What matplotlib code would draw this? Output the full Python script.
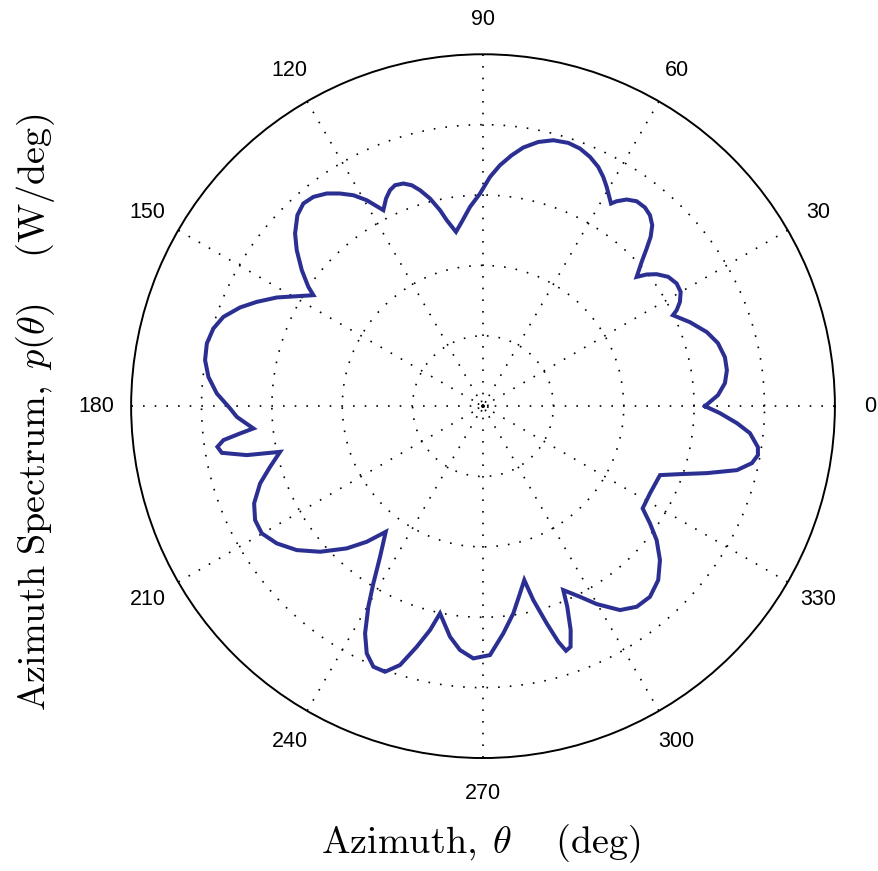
import numpy as np
import matplotlib.pyplot as plt

plt.rcParams['mathtext.fontset'] = 'cm'

# azimuth spectrum (deg, radial units with ring spacing = 1)
theta_deg = [0.00, 2.68, 5.43, 8.39, 11.45, 15.01, 18.28, 22.09, 25.59,
             26.36, 27.90, 30.03, 32.35, 34.91, 37.23, 38.82, 40.07,
             42.28, 43.93, 45.28, 46.91, 48.84, 50.81, 53.14, 55.19, 56.89, 57.72,
             58.89, 60.58, 62.32, 64.28, 66.77, 69.37, 72.05, 75.20, 78.18, 81.15,
             83.48, 85.97, 88.25, 90.81, 93.73, 96.59, 98.81,
             101.04, 102.37, 104.32, 106.26, 107.88, 109.69, 111.72, 113.30, 115.03, 116.96,
             119.45, 121.58, 123.92, 126.31, 129.04, 131.56, 134.19, 137.43, 140.06,
             143.12, 145.67, 146.81,
             149.44, 152.21, 155.26, 157.89, 161.03, 163.93, 167.21, 170.60, 173.91,
             177.27, 180.52, 182.49, 185.55,
             186.41, 187.46, 188.71, 190.13, 191.71, 192.69,
             195.91, 199.12, 203.02, 206.57, 209.91, 213.64, 217.70, 221.79, 226.23,
             229.40, 232.26,
             235.65, 238.26, 240.25, 242.57, 244.81, 247.18, 249.75, 252.23, 254.60,
             256.69, 258.28,
             261.86, 264.61, 267.80, 271.61, 275.10, 278.32, 281.17, 283.35,
             284.54, 286.34, 287.72, 288.74, 289.99, 291.38, 292.78, 293.58,
             296.96, 299.87, 303.88, 307.45, 311.21, 315.21, 318.97, 322.35, 324.92, 327.36,
             332.40, 338.71,
             340.95, 343.35, 345.86, 348.04, 349.90, 351.52, 354.23, 356.17, 358.31]
r_val = [3.153, 3.342, 3.453, 3.503, 3.507, 3.456, 3.351, 3.173, 2.992,
         3.071, 3.166, 3.244, 3.257, 3.210, 3.099, 2.984, 2.853,
         3.047, 3.229, 3.385, 3.520, 3.604, 3.642, 3.639, 3.576, 3.476, 3.405,
         3.473, 3.577, 3.678, 3.773, 3.854, 3.911, 3.932, 3.908, 3.835, 3.719,
         3.588, 3.432, 3.259, 3.021, 2.837, 2.635, 2.506,
         2.692, 2.850, 3.045, 3.196, 3.298, 3.360, 3.379, 3.341, 3.256, 3.124,
         3.360, 3.518, 3.641, 3.750, 3.828, 3.848, 3.784, 3.626, 3.452,
         3.219, 3.005, 2.880,
         3.073, 3.312, 3.540, 3.726, 3.901, 3.987, 4.024, 4.003, 3.924,
         3.787, 3.594, 3.502, 3.278,
         3.473, 3.720, 3.818, 3.770, 3.428, 2.956,
         3.146, 3.352, 3.534, 3.621, 3.626, 3.520, 3.345, 3.105, 2.799,
         2.538, 2.258,
         2.593, 2.962, 3.284, 3.638, 3.882, 4.017, 4.023, 3.863, 3.547,
         3.270, 3.007,
         3.310, 3.481, 3.587, 3.538, 3.242, 2.976, 2.712, 2.540,
         2.847, 3.216, 3.515, 3.670, 3.639, 3.417, 3.092, 2.852,
         3.039, 3.243, 3.490, 3.591, 3.601, 3.508, 3.333, 3.116, 2.899, 2.694,
         2.677, 2.699,
         2.960, 3.321, 3.721, 3.906, 3.968, 3.949, 3.812, 3.616, 3.368]

ring_r = [1, 2, 3, 4]
spoke_deg = list(range(0, 360, 30))

fig = plt.figure(figsize=(8.79, 8.71), dpi=100)
ax = fig.add_axes([0.149, 0.1297, 0.801, 0.808], projection='polar')

th = np.deg2rad(theta_deg + [theta_deg[0]])
rr = r_val + [r_val[0]]
ax.plot(th, rr, color='#2B2F92', lw=2.9, zorder=3, solid_joinstyle='miter')

ax.set_ylim(0, 5)
ax.set_yticks(ring_r)
ax.set_yticklabels([])
ax.set_xticks(np.deg2rad(spoke_deg))
ax.set_xticklabels([])
ax.grid(True, color='black', lw=1.2, linestyle=(0, (1, 6)))
ax.tick_params(length=0)
ax.spines['polar'].set_linewidth(1.4)
ax.spines['polar'].set_color('black')

# small circle at the origin
tc = np.linspace(0, 2 * np.pi, 60)
ax.plot(tc, np.full_like(tc, 0.07), color='black', lw=1.2,
        linestyle=(0, (1, 1.5)), zorder=2)

for a in spoke_deg:
    ax.text(np.deg2rad(a), 5.50, str(a), ha='center', va='center',
            fontsize=15.5, family='Liberation Sans', clip_on=False)

fig.text(0.547, 0.032, r'$\mathrm{Azimuth,}\;\theta\quad\ \mathrm{(deg)}$',
         ha='center', va='center', fontsize=27.5)
fig.text(0.04, 0.527, r'$\mathrm{Azimuth\ Spectrum,}\;p(\theta)\quad\ \mathrm{(W/deg)}$',
         ha='center', va='center', rotation=90, fontsize=27.5)

fig.savefig('out.png', dpi=100)
